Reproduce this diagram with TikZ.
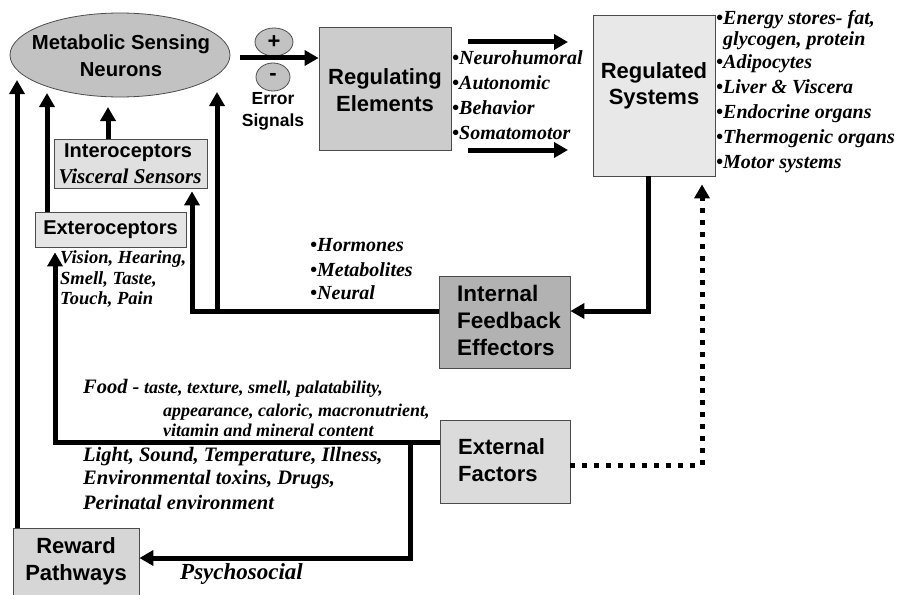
\documentclass[tikz,border=0pt]{standalone}
\usepackage{fontspec}
\setmainfont{Liberation Serif}
\setsansfont{Liberation Sans}
\usetikzlibrary{arrows.meta,shapes.geometric,calc}
\begin{document}
\begin{tikzpicture}[x=1pt,y=-1pt,
  sans/.style={font=\sffamily\bfseries\fontsize{22}{26.5}\selectfont, inner sep=0},
  ssans/.style={font=\sffamily\bfseries\fontsize{20}{27}\selectfont, inner sep=0},
  esans/.style={font=\sffamily\bfseries\fontsize{17.5}{22}\selectfont, inner sep=0},
  ital/.style={font=\rmfamily\bfseries\itshape\fontsize{20}{25}\selectfont, inner sep=0, anchor=base west},
  sital/.style={font=\rmfamily\bfseries\itshape\fontsize{18.5}{21}\selectfont, inner sep=0, anchor=base west},
  fital/.style={font=\rmfamily\bfseries\itshape\fontsize{18}{21}\selectfont, inner sep=0, anchor=base west},
  lital/.style={font=\rmfamily\bfseries\itshape\fontsize{20.5}{25}\selectfont, inner sep=0, anchor=base west},
  box/.style={draw=black!70, line width=0.8pt, inner sep=0},
  arr/.style={line width=5pt, -{Triangle[length=14pt,width=15pt]}},
  dotline/.style={line width=5pt, dash pattern=on 5pt off 7pt},
]
\useasboundingbox (0,0) rectangle (904,594);

% ---- shapes ----
\node[ellipse, box, fill=black!24, minimum width=220, minimum height=84] (ms) at (120,55) {};
\node[sans, font=\sffamily\bfseries\fontsize{20.3}{27}\selectfont, align=center] (mst) at (121,56) {Metabolic Sensing\\Neurons};

\node[ellipse, box, fill=black!24, minimum width=38, minimum height=28] (plus) at (274,42) {};
\node[sans] (plust) at (274,42) {+};
\node[ellipse, box, fill=black!24, minimum width=34, minimum height=28] (minus) at (273,77) {};
\node[sans] (minust) at (273,77) {-};
\node[esans, align=center] (err) at (273,111) {Error\\Signals};

\node[box, fill=black!20, minimum width=132, minimum height=123] (re) at (385,88.5) {};
\node[sans, align=center] (ret) at (385,90) {Regulating\\Elements};

\node[box, fill=black!9, minimum width=122, minimum height=161] (rs) at (654,95.5) {};
\node[sans, align=center] (rst) at (654,86) {Regulated\\Systems};

\node[box, fill=black!30, minimum width=131, minimum height=92] (ife) at (504.5,322) {};
\node[sans, font=\sffamily\bfseries\fontsize{22.5}{27}\selectfont, align=left, anchor=west] (ifet) at (457,320) {Internal\\Feedback\\Effectors};

\node[box, fill=black!12, minimum width=153, minimum height=49] (intero) at (130.5,163.5) {};
\node[ssans] (interot) at (128,153) {Interoceptors};
\node[font=\rmfamily\bfseries\itshape\fontsize{21}{25}\selectfont, inner sep=0] (viscer) at (130,176) {Visceral Sensors};

\node[box, fill=black!10, minimum width=151, minimum height=35] (extero) at (110.5,229.5) {};
\node[ssans] (exterot) at (110.5,230) {Exteroceptors};

\node[box, fill=black!14, minimum width=130, minimum height=83] (ef) at (505,461.5) {};
\node[sans, align=left, anchor=west] (eft) at (458,460) {External\\Factors};

\node[box, fill=black!16, minimum width=126, minimum height=72] (rp) at (76,564) {};
\node[sans, align=center] (rpt) at (76,561.5) {Reward\\Pathways};

% ---- italic lists ----
\node[ital] (r1) at (452,64.5) {•Neurohumoral};
\node[ital] (r2) at (452,89.5) {•Autonomic};
\node[ital] (r3) at (452,114.5) {•Behavior};
\node[ital] (r4) at (452,139.5) {•Somatomotor};

\node[ital] (s1) at (716,24.5) {•Energy stores- fat,};
\node[ital] (s2) at (716,45.5) {\phantom{•}glycogen, protein};
\node[ital] (s3) at (716,68.5) {•Adipocytes};
\node[ital] (s4) at (716,93.5) {•Liver \& Viscera};
\node[ital] (s5) at (716,118.5) {•Endocrine organs};
\node[ital] (s6) at (716,143.5) {•Thermogenic organs};
\node[ital] (s7) at (716,168.5) {•Motor systems};

\node[ital] (h1) at (310,251.5) {•Hormones};
\node[ital] (h2) at (310,276.5) {•Metabolites};
\node[ital] (h3) at (310,299.5) {•Neural};

\node[sital] (v1) at (60,263) {Vision, Hearing,};
\node[sital] (v2) at (60,284) {Smell, Taste,};
\node[sital] (v3) at (60,304) {Touch, Pain};

\node[fital] (f1) at (83,393) {{\fontsize{20.5}{21}\selectfont Food -} taste, texture, smell, palatability,};
\node[fital] (f2) at (163,416) {appearance, caloric, macronutrient,};
\node[fital] (f3) at (163,436) {vitamin and mineral content};

\node[lital] (l1) at (83,461.5) {Light, Sound, Temperature, Illness,};
\node[lital] (l2) at (83,484.5) {Environmental toxins, Drugs,};
\node[lital] (l3) at (83,509.5) {Perinatal environment};

\node[ital, font=\rmfamily\bfseries\itshape\fontsize{23}{25}\selectfont] (psy) at (180,579.5) {Psychosocial};

% ---- connectors ----
\coordinate (e1) at (240,58);
\draw[arr] (e1) -- (e1 -| re.west);

\coordinate (o1s) at (468,42); \coordinate (o1e) at (568,42);
\coordinate (o2s) at (468,150); \coordinate (o2e) at (568,150);
\draw[arr] (o1s) -- (o1e);
\draw[arr] (o2s) -- (o2e);

\coordinate (c1) at (648,311);
\draw[arr] (rs.south -| c1) -- (c1) -- (c1 -| ife.east);

\coordinate (c2) at (192,311);
\draw[arr, shorten >=3pt] (c2 -| ife.west) -- (c2) -- (c2 |- intero.south);

\coordinate (c3) at (217,311); \coordinate (t3) at (217,92);
\draw[arr] (c3) -- (t3);

\coordinate (t4) at (108,107);
\draw[arr] (intero.north -| t4) -- (t4);

\coordinate (t5) at (47,93);
\draw[arr] (extero.north -| t5) -- (t5);

\coordinate (c6) at (55,442);
\draw[arr, shorten >=5pt] (c6 -| ef.west) -- (c6) -- (c6 |- extero.south);

\coordinate (c7) at (410,442); \coordinate (c8) at (410,558);
\draw[arr] (c7) -- (c8) -- (c8 -| rp.east);

\coordinate (t9) at (17,80);
\draw[arr] (rp.north -| t9) -- (t9);

\coordinate (c10) at (702,465);
\draw[dotline, -{Triangle[length=14pt,width=15pt]}, shorten >=8pt] (c10 -| ef.east) -- (c10) -- (c10 |- rs.south);
\end{tikzpicture}
\end{document}
